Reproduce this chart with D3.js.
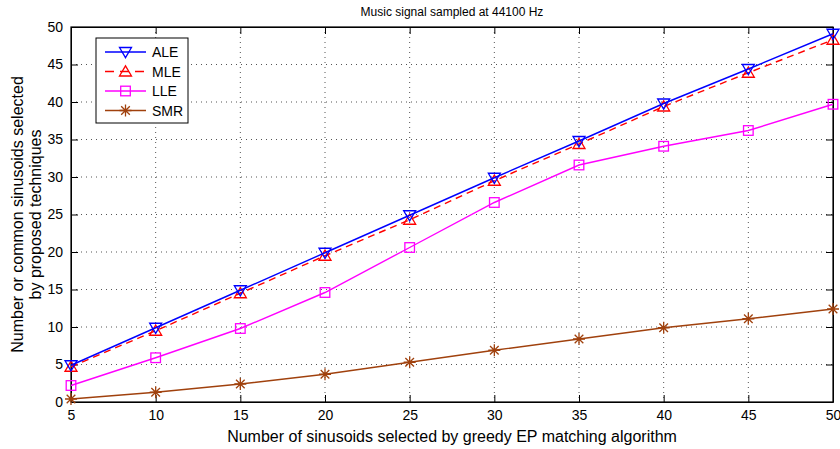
<!DOCTYPE html>
<html lang="en">
<head>
<meta charset="utf-8" />
<title>Music signal sampled at 44100 Hz</title>
<script src="https://d3js.org/d3.v7.min.js"></script>
<style>
	body { margin: 0; background: #fff; }
	text { font-family: "Liberation Sans", Arial, sans-serif; fill: #000; }
</style>
</head>
<body>
<div id="chart"></div>
<script>
	// data
	var xVals = [5, 10, 15, 20, 25, 30, 35, 40, 45, 50];
	var aleVals = [4.9, 9.9, 14.9, 19.9, 24.9, 29.9, 34.8, 39.8, 44.4, 49.1];
	var mleVals = [4.7, 9.5, 14.5, 19.5, 24.3, 29.5, 34.4, 39.4, 43.9, 48.3];
	var lleVals = [2.2, 5.9, 9.8, 14.6, 20.6, 26.6, 31.6, 34.1, 36.2, 39.7];
	var smrVals = [0.4, 1.3, 2.4, 3.7, 5.3, 6.9, 8.4, 9.9, 11.1, 12.4];
	var yTicks = [0, 5, 10, 15, 20, 25, 30, 35, 40, 45, 50];

	var series = [
		{ name: "ALE", values: aleVals, color: "#0000ff", dash: null, marker: "tri-down" },
		{ name: "MLE", values: mleVals, color: "#ff0000", dash: "7,5", marker: "tri-up" },
		{ name: "LLE", values: lleVals, color: "#ff00ff", dash: null, marker: "square" },
		{ name: "SMR", values: smrVals, color: "#a0410d", dash: null, marker: "star" }
	];

	var W = 840, H = 449;
	var margin = { top: 27, right: 7, bottom: 47, left: 71 },
		width = W - margin.left - margin.right,
		height = H - margin.top - margin.bottom;

	var svg = d3.select("#chart").append("svg")
		.attr("width", W)
		.attr("height", H);

	var g = svg.append("g")
		.attr("transform", "translate(" + margin.left + "," + margin.top + ")");

	var x = d3.scaleLinear().domain([5, 50]).range([0, width]);
	var y = d3.scaleLinear().domain([0, 50]).range([height, 0]);

	// dotted grid
	g.append("g").selectAll("line.gx")
		.data(xVals.slice(1, -1))
		.enter().append("line")
		.attr("x1", d => x(d)).attr("x2", d => x(d))
		.attr("y1", 0).attr("y2", height)
		.attr("stroke", "#555").attr("stroke-width", 1)
		.attr("stroke-dasharray", "1,4");
	g.append("g").selectAll("line.gy")
		.data(yTicks.slice(1, -1))
		.enter().append("line")
		.attr("x1", 0).attr("x2", width)
		.attr("y1", d => y(d)).attr("y2", d => y(d))
		.attr("stroke", "#555").attr("stroke-width", 1)
		.attr("stroke-dasharray", "1,4");

	// axes with inward ticks on all sides
	var tickLen = 7;
	g.append("g")
		.attr("transform", "translate(0," + height + ")")
		.call(d3.axisBottom(x).tickValues(xVals).tickSizeInner(-tickLen).tickSizeOuter(0).tickPadding(8));
	g.append("g")
		.call(d3.axisLeft(y).tickValues(yTicks).tickSizeInner(-tickLen).tickSizeOuter(0).tickPadding(8));
	g.append("g")
		.call(d3.axisTop(x).tickValues(xVals).tickSizeInner(-tickLen).tickSizeOuter(0).tickFormat(""));
	g.append("g")
		.attr("transform", "translate(" + width + ",0)")
		.call(d3.axisRight(y).tickValues(yTicks).tickSizeInner(-tickLen).tickSizeOuter(0).tickFormat(""));

	g.selectAll(".domain").attr("stroke", "#000").attr("stroke-width", 1);
	g.selectAll(".tick line").attr("stroke", "#000");
	g.selectAll(".tick text")
		.style("font-family", "'Liberation Sans', Arial, sans-serif")
		.style("font-size", "14px")
		.attr("fill", "#000");

	// box
	g.append("rect")
		.attr("width", width).attr("height", height)
		.attr("fill", "none").attr("stroke", "#000").attr("stroke-width", 1.2);

	// markers
	function drawMarker(sel, type, color, size) {
		var s = size;
		if (type === "tri-down") {
			sel.append("path")
				.attr("d", "M" + (-s) + "," + (-s * 0.75) + "L" + s + "," + (-s * 0.75) + "L0," + (s * 0.95) + "Z")
				.attr("fill", "none").attr("stroke", color).attr("stroke-width", 1.3);
		} else if (type === "tri-up") {
			sel.append("path")
				.attr("d", "M" + (-s) + "," + (s * 0.75) + "L" + s + "," + (s * 0.75) + "L0," + (-s * 0.95) + "Z")
				.attr("fill", "none").attr("stroke", color).attr("stroke-width", 1.3);
		} else if (type === "square") {
			sel.append("rect")
				.attr("x", -s * 0.8).attr("y", -s * 0.8)
				.attr("width", s * 1.6).attr("height", s * 1.6)
				.attr("fill", "none").attr("stroke", color).attr("stroke-width", 1.3);
		} else if (type === "star") {
			var r = s;
			var d = "M" + (-r) + ",0L" + r + ",0M0," + (-r) + "L0," + r +
				"M" + (-r * 0.72) + "," + (-r * 0.72) + "L" + (r * 0.72) + "," + (r * 0.72) +
				"M" + (-r * 0.72) + "," + (r * 0.72) + "L" + (r * 0.72) + "," + (-r * 0.72);
			sel.append("path").attr("d", d)
				.attr("fill", "none").attr("stroke", color).attr("stroke-width", 1.3);
		}
	}

	var line = d3.line()
		.x((d, i) => x(xVals[i]))
		.y(d => y(d));

	// draw in reverse so ALE ends on top
	series.slice().reverse().forEach(function(s) {
		g.append("path")
			.datum(s.values)
			.attr("d", line)
			.attr("fill", "none")
			.attr("stroke", s.color)
			.attr("stroke-width", 1.4)
			.attr("stroke-dasharray", s.dash);
		s.values.forEach(function(v, i) {
			var m = g.append("g").attr("transform", "translate(" + x(xVals[i]) + "," + y(v) + ")");
			drawMarker(m, s.marker, s.color, 6);
		});
	});

	// legend
	var lg = svg.append("g").attr("transform", "translate(96,38)");
	lg.append("rect")
		.attr("width", 92).attr("height", 85)
		.attr("fill", "#fff").attr("stroke", "#000").attr("stroke-width", 1);
	series.forEach(function(s, i) {
		var yy = 14 + i * 19.5;
		lg.append("line")
			.attr("x1", 9).attr("x2", 50)
			.attr("y1", yy).attr("y2", yy)
			.attr("stroke", s.color).attr("stroke-width", 1.4)
			.attr("stroke-dasharray", s.dash ? "9,6" : null);
		var m = lg.append("g").attr("transform", "translate(29.5," + yy + ")");
		drawMarker(m, s.marker, s.color, 6);
		lg.append("text")
			.attr("x", 56).attr("y", yy + 5)
			.style("font-size", "14px")
			.text(s.name);
	});

	// title and axis labels
	svg.append("text")
		.attr("x", margin.left + width / 2).attr("y", 16)
		.attr("text-anchor", "middle")
		.style("font-size", "12px")
		.text("Music signal sampled at 44100 Hz");

	svg.append("text")
		.attr("x", margin.left + width / 2).attr("y", 442)
		.attr("text-anchor", "middle")
		.style("font-size", "16px")
		.text("Number of sinusoids selected by greedy EP matching algorithm");

	var yl = svg.append("text")
		.attr("transform", "translate(0," + (margin.top + height / 2) + ") rotate(-90)")
		.attr("text-anchor", "middle")
		.style("font-size", "16px");
	yl.append("tspan").attr("x", 0).attr("y", 23).text("Number or common sinusoids selected");
	yl.append("tspan").attr("x", 0).attr("y", 41).text("by proposed techniques");
</script>
</body>
</html>
